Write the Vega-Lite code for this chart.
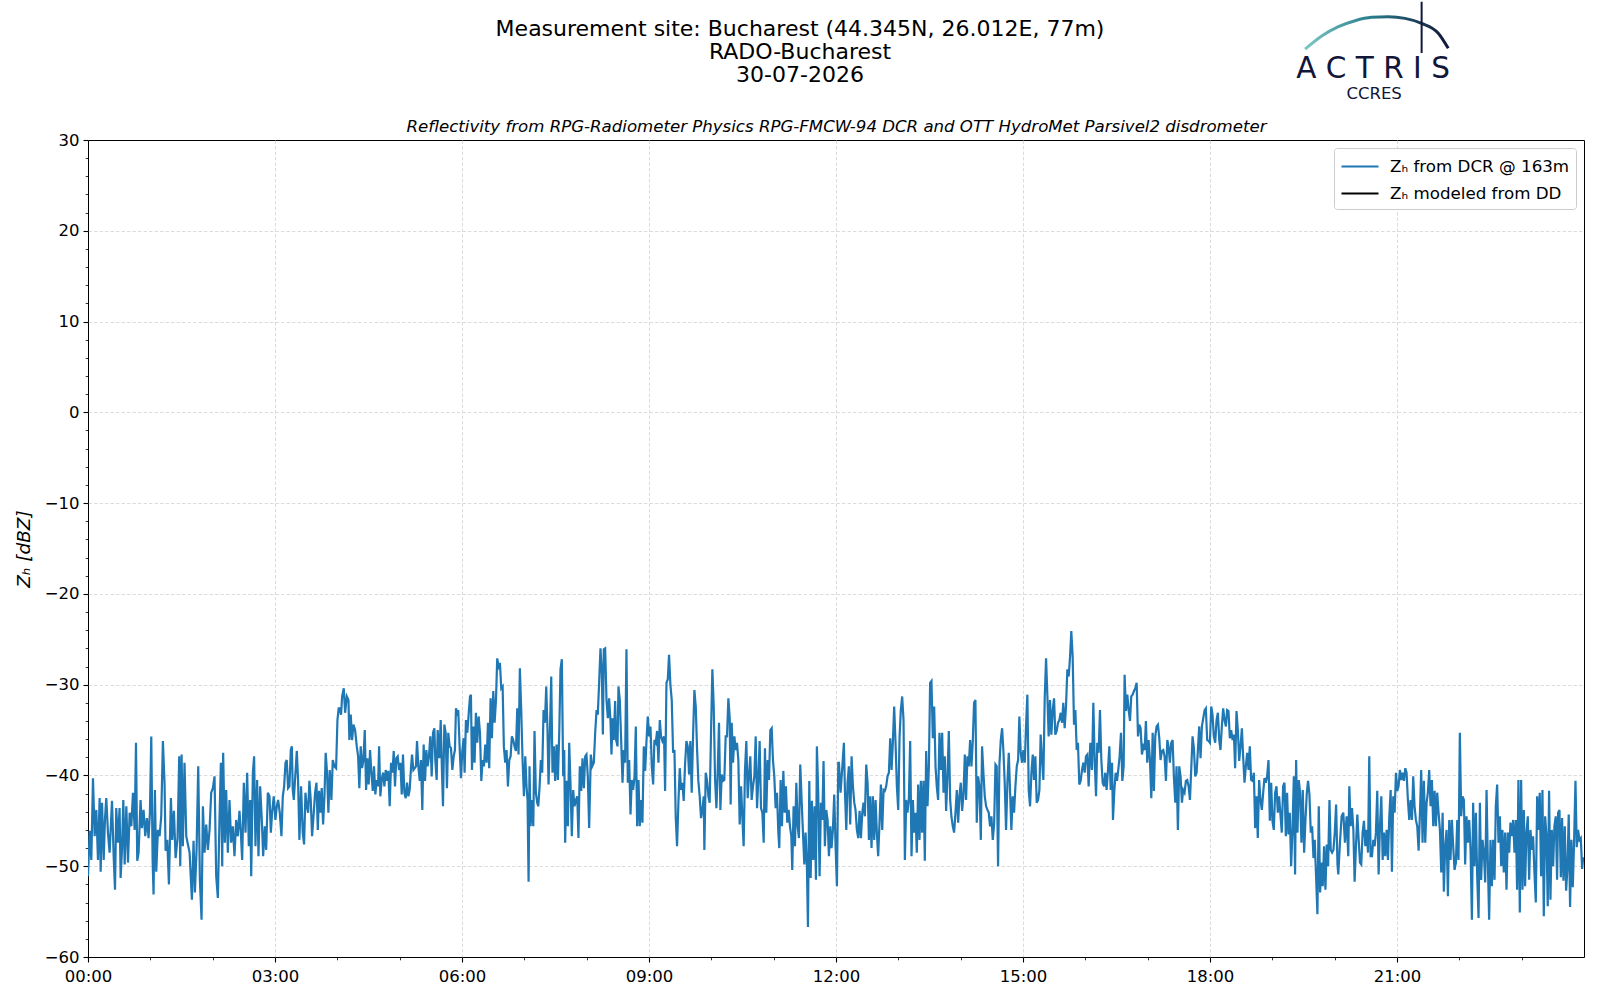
{
"$schema": "https://vega.github.io/schema/vega-lite/v6.json",
"autosize": {"type": "none"},
"width": 1496,
"height": 817,
"padding": {"left": 88, "top": 140, "right": 16, "bottom": 43},
"background": "white",
"config": {
  "font": "DejaVu Sans",
  "view": {"stroke": "black", "strokeWidth": 1},
  "axis": {"labelColor": "black", "tickColor": "black", "domainColor": "black", "titleColor": "black"}
},
"title": {"text": ["Measurement site: Bucharest (44.345N, 26.012E, 77m)", "RADO-Bucharest", "30-07-2026"], "fontSize": 22, "fontWeight": "normal", "lineHeight": 23, "frame": "group", "anchor": "middle", "dx": -36, "offset": 0, "dy": 89, "color": "black"},
"datasets": {
"dcr": [
{"t":0,"z":-51.1},{"t":1.6,"z":-46.1},{"t":3.2,"z":-49.3},{"t":4.8,"z":-40.3},{"t":6.4,"z":-46.7},{"t":8.0,"z":-43.8},{"t":9.6,"z":-49.3},{"t":11.2,"z":-42.5},{"t":12.2,"z":-50.6},{"t":13.5,"z":-43.0},{"t":15.1,"z":-49.3},{"t":16.3,"z":-44.9},{"t":17.6,"z":-42.5},{"t":19.2,"z":-46.3},{"t":20.8,"z":-48.5},{"t":23.1,"z":-42.8},{"t":24.7,"z":-48.9},{"t":26.0,"z":-52.6},{"t":27.2,"z":-43.6},{"t":28.8,"z":-47.4},{"t":30.4,"z":-43.6},{"t":31.4,"z":-51.3},{"t":32.7,"z":-48.2},{"t":34.0,"z":-42.7},{"t":35.3,"z":-49.8},{"t":36.9,"z":-43.4},{"t":38.5,"z":-49.6},{"t":40.1,"z":-44.1},{"t":41.7,"z":-45.6},{"t":43.3,"z":-41.9},{"t":44.9,"z":-46.0},{"t":46.2,"z":-36.4},{"t":47.4,"z":-49.4},{"t":48.7,"z":-48.5},{"t":50.6,"z":-42.7},{"t":51.9,"z":-45.8},{"t":53.5,"z":-43.8},{"t":55.1,"z":-46.7},{"t":56.7,"z":-44.7},{"t":58.3,"z":-46.9},{"t":59.6,"z":-44.1},{"t":60.9,"z":-35.7},{"t":62.2,"z":-49.3},{"t":63.1,"z":-53.1},{"t":64.4,"z":-41.6},{"t":65.7,"z":-50.6},{"t":67.3,"z":-46.0},{"t":68.9,"z":-46.7},{"t":70.5,"z":-44.5},{"t":72.1,"z":-36.2},{"t":73.7,"z":-41.0},{"t":74.7,"z":-48.3},{"t":76.3,"z":-47.1},{"t":77.9,"z":-52.0},{"t":79.8,"z":-42.5},{"t":81.1,"z":-47.1},{"t":82.7,"z":-43.9},{"t":84.3,"z":-49.1},{"t":86.2,"z":-46.9},{"t":87.8,"z":-37.9},{"t":88.8,"z":-50.0},{"t":90.1,"z":-37.7},{"t":91.3,"z":-47.8},{"t":92.9,"z":-38.6},{"t":94.6,"z":-46.7},{"t":96.2,"z":-47.6},{"t":97.8,"z":-48.5},{"t":100.0,"z":-53.7},{"t":101.6,"z":-47.2},{"t":102.9,"z":-52.9},{"t":104.5,"z":-48.2},{"t":106.1,"z":-39.0},{"t":107.7,"z":-51.5},{"t":109.3,"z":-55.9},{"t":110.6,"z":-43.4},{"t":112.2,"z":-48.5},{"t":113.8,"z":-45.4},{"t":115.4,"z":-48.2},{"t":117.0,"z":-46.0},{"t":118.6,"z":-41.9},{"t":120.2,"z":-41.4},{"t":121.8,"z":-40.1},{"t":123.4,"z":-51.1},{"t":125.0,"z":-53.5},{"t":126.6,"z":-44.7},{"t":127.9,"z":-38.6},{"t":129.2,"z":-50.0},{"t":130.1,"z":-37.5},{"t":131.7,"z":-47.4},{"t":133.0,"z":-41.6},{"t":134.6,"z":-48.5},{"t":136.2,"z":-42.7},{"t":137.8,"z":-47.4},{"t":139.4,"z":-45.6},{"t":141.0,"z":-48.9},{"t":142.6,"z":-44.9},{"t":144.2,"z":-46.7},{"t":145.8,"z":-43.9},{"t":147.1,"z":-46.3},{"t":148.4,"z":-49.3},{"t":150.0,"z":-40.8},{"t":151.6,"z":-46.3},{"t":153.2,"z":-39.7},{"t":154.8,"z":-47.8},{"t":156.1,"z":-42.7},{"t":157.1,"z":-51.1},{"t":158.7,"z":-39.7},{"t":159.9,"z":-37.9},{"t":161.2,"z":-47.8},{"t":162.8,"z":-40.5},{"t":164.1,"z":-48.9},{"t":165.7,"z":-41.2},{"t":167.3,"z":-44.9},{"t":168.6,"z":-48.9},{"t":170.2,"z":-45.6},{"t":171.5,"z":-48.2},{"t":173.1,"z":-41.9},{"t":174.7,"z":-42.3},{"t":176.0,"z":-46.3},{"t":177.2,"z":-44.1},{"t":178.8,"z":-42.3},{"t":180.4,"z":-44.9},{"t":181.7,"z":-43.4},{"t":183.0,"z":-42.7},{"t":184.6,"z":-44.1},{"t":186.2,"z":-46.7},{"t":187.5,"z":-42.3},{"t":188.8,"z":-41.2},{"t":190.1,"z":-38.6},{"t":191.3,"z":-38.3},{"t":192.6,"z":-41.4},{"t":193.9,"z":-41.2},{"t":195.2,"z":-37.2},{"t":196.2,"z":-36.8},{"t":197.1,"z":-41.6},{"t":198.1,"z":-42.7},{"t":199.7,"z":-39.7},{"t":201.0,"z":-37.3},{"t":202.2,"z":-40.5},{"t":203.5,"z":-47.1},{"t":205.1,"z":-41.2},{"t":206.7,"z":-46.3},{"t":208.0,"z":-47.6},{"t":209.3,"z":-41.9},{"t":210.6,"z":-43.4},{"t":211.9,"z":-44.1},{"t":213.1,"z":-40.6},{"t":214.4,"z":-42.7},{"t":215.7,"z":-46.7},{"t":217.3,"z":-44.1},{"t":218.6,"z":-41.9},{"t":219.9,"z":-40.8},{"t":221.2,"z":-46.0},{"t":222.4,"z":-41.7},{"t":223.7,"z":-44.1},{"t":225.0,"z":-41.4},{"t":226.3,"z":-45.4},{"t":227.6,"z":-42.3},{"t":228.8,"z":-37.5},{"t":230.1,"z":-39.7},{"t":231.4,"z":-44.1},{"t":232.7,"z":-39.4},{"t":234.3,"z":-42.7},{"t":235.6,"z":-38.3},{"t":237.2,"z":-39.0},{"t":238.8,"z":-39.2},{"t":240.1,"z":-33.9},{"t":241.3,"z":-32.6},
{"t":242.0,"z":-32.6},{"t":243.6,"z":-33.3},{"t":244.6,"z":-31.3},{"t":246.2,"z":-30.4},{"t":247.5,"z":-33.1},{"t":249.1,"z":-31.3},{"t":250.7,"z":-31.7},{"t":251.6,"z":-36.1},{"t":252.9,"z":-33.3},{"t":254.2,"z":-36.1},{"t":255.5,"z":-34.4},{"t":257.1,"z":-35.0},{"t":258.7,"z":-36.8},{"t":260.0,"z":-37.9},{"t":261.2,"z":-41.4},{"t":262.5,"z":-36.8},{"t":263.8,"z":-39.2},{"t":265.1,"z":-38.3},{"t":266.4,"z":-35.0},{"t":267.7,"z":-41.6},{"t":268.9,"z":-38.1},{"t":270.2,"z":-41.0},{"t":271.5,"z":-37.2},{"t":272.8,"z":-39.7},{"t":274.1,"z":-41.7},{"t":275.3,"z":-39.0},{"t":276.6,"z":-42.1},{"t":277.9,"z":-40.5},{"t":279.2,"z":-41.2},{"t":280.2,"z":-36.8},{"t":281.4,"z":-42.3},{"t":282.7,"z":-40.5},{"t":284.0,"z":-39.7},{"t":285.3,"z":-41.2},{"t":286.6,"z":-39.4},{"t":287.8,"z":-40.6},{"t":289.1,"z":-39.5},{"t":290.4,"z":-43.4},{"t":291.7,"z":-38.6},{"t":293.0,"z":-39.7},{"t":294.3,"z":-37.3},{"t":295.5,"z":-41.2},{"t":296.8,"z":-38.1},{"t":298.1,"z":-37.9},{"t":299.4,"z":-39.4},{"t":300.7,"z":-38.6},{"t":302.0,"z":-42.1},{"t":303.2,"z":-37.7},{"t":304.5,"z":-41.9},{"t":305.8,"z":-42.5},{"t":307.1,"z":-40.8},{"t":308.4,"z":-42.3},{"t":309.6,"z":-41.6},{"t":310.9,"z":-39.2},{"t":311.9,"z":-37.7},{"t":313.2,"z":-39.4},{"t":314.5,"z":-39.2},{"t":315.7,"z":-39.0},{"t":316.7,"z":-36.2},{"t":318.0,"z":-39.0},{"t":319.3,"z":-40.6},{"t":320.5,"z":-38.3},{"t":321.8,"z":-43.8},{"t":323.1,"z":-36.6},{"t":324.4,"z":-40.6},{"t":325.7,"z":-37.2},{"t":326.9,"z":-39.0},{"t":328.2,"z":-37.9},{"t":329.5,"z":-35.7},{"t":330.8,"z":-40.1},{"t":332.1,"z":-35.3},{"t":333.4,"z":-34.8},{"t":334.3,"z":-38.3},{"t":335.6,"z":-40.5},{"t":336.6,"z":-35.0},{"t":338.2,"z":-38.1},{"t":339.5,"z":-33.9},{"t":340.7,"z":-39.5},{"t":341.7,"z":-43.4},{"t":343.0,"z":-34.4},{"t":344.3,"z":-35.3},{"t":345.5,"z":-41.4},{"t":346.8,"z":-35.3},{"t":348.1,"z":-36.8},{"t":349.4,"z":-37.0},{"t":350.7,"z":-39.4},{"t":352.0,"z":-37.9},{"t":353.2,"z":-37.2},{"t":354.2,"z":-32.6},{"t":355.5,"z":-33.1},{"t":356.4,"z":-32.8},{"t":357.7,"z":-36.8},{"t":359.0,"z":-40.3},{"t":360.3,"z":-37.3},{"t":361.6,"z":-35.9},{"t":362.5,"z":-39.7},{"t":363.8,"z":-33.9},{"t":365.1,"z":-35.3},{"t":366.4,"z":-33.3},{"t":367.7,"z":-31.3},{"t":368.6,"z":-31.1},{"t":369.6,"z":-39.4},{"t":370.9,"z":-34.6},{"t":372.1,"z":-38.6},{"t":373.4,"z":-33.1},{"t":374.7,"z":-36.4},{"t":376.0,"z":-33.5},{"t":377.3,"z":-35.3},{"t":378.6,"z":-40.6},{"t":379.8,"z":-38.3},{"t":381.1,"z":-39.0},{"t":382.4,"z":-36.6},{"t":383.7,"z":-38.6},{"t":385.0,"z":-34.2},{"t":386.2,"z":-39.2},{"t":387.5,"z":-31.5},{"t":388.8,"z":-35.9},{"t":390.1,"z":-30.7},{"t":391.4,"z":-34.2},{"t":392.7,"z":-31.7},{"t":393.9,"z":-27.1},{"t":395.2,"z":-28.0},{"t":396.5,"z":-27.6},{"t":397.8,"z":-30.4},{"t":399.1,"z":-30.2},{"t":400.3,"z":-36.8},{"t":401.6,"z":-38.6},{"t":402.9,"z":-37.2},{"t":404.2,"z":-41.2},{"t":405.5,"z":-38.3},{"t":406.8,"z":-37.9},{"t":408.0,"z":-35.7},{"t":409.3,"z":-36.1},{"t":410.6,"z":-36.8},{"t":411.9,"z":-37.3},{"t":413.2,"z":-32.6},{"t":414.4,"z":-37.7},{"t":415.7,"z":-28.2},{"t":417.0,"z":-32.8},{"t":418.3,"z":-38.3},{"t":419.6,"z":-42.3},{"t":420.9,"z":-37.9},{"t":422.1,"z":-41.2},{"t":423.1,"z":-42.7},{"t":424.1,"z":-51.7},{"t":425.0,"z":-39.0},{"t":426.0,"z":-45.6},{"t":427.3,"z":-42.7},{"t":428.6,"z":-45.6},{"t":429.8,"z":-35.1},{"t":431.1,"z":-41.9},{"t":432.4,"z":-43.0},{"t":433.4,"z":-43.4},{"t":434.6,"z":-41.4},{"t":435.9,"z":-38.3},{"t":437.2,"z":-39.7},{"t":438.5,"z":-32.8},{"t":439.8,"z":-34.2},{"t":441.1,"z":-30.2},{"t":442.3,"z":-35.0},{"t":443.3,"z":-41.0},{"t":444.6,"z":-35.3},{"t":445.9,"z":-29.1},{"t":447.1,"z":-39.7},{"t":448.4,"z":-36.8},{"t":449.7,"z":-40.6},{"t":451.0,"z":-36.6},{"t":452.3,"z":-40.5},{"t":453.6,"z":-35.3},{"t":454.8,"z":-28.3},{"t":456.1,"z":-27.2},{"t":457.4,"z":-40.1},{"t":458.4,"z":-37.2},{"t":459.3,"z":-47.4},{"t":460.6,"z":-40.6},{"t":461.9,"z":-45.6},{"t":463.2,"z":-36.4},{"t":464.5,"z":-41.2},{"t":465.7,"z":-46.7},{"t":467.0,"z":-41.6},{"t":468.3,"z":-43.4},{"t":469.6,"z":-42.7},{"t":470.9,"z":-42.3},{"t":472.1,"z":-46.9},{"t":473.4,"z":-39.0},{"t":474.7,"z":-41.7},{"t":476.0,"z":-38.1},{"t":477.3,"z":-41.4},{"t":478.6,"z":-37.9},{"t":479.8,"z":-37.7},{"t":481.1,"z":-40.1},
{"t":482.4,"z":-45.8},{"t":484.0,"z":-37.7},{"t":485.3,"z":-39.0},{"t":486.9,"z":-38.6},{"t":488.2,"z":-35.3},{"t":489.5,"z":-32.8},{"t":490.7,"z":-33.3},{"t":492.0,"z":-29.8},{"t":493.3,"z":-26.0},{"t":494.6,"z":-28.7},{"t":495.6,"z":-35.5},{"t":496.5,"z":-26.1},{"t":497.8,"z":-26.0},{"t":499.1,"z":-31.7},{"t":500.4,"z":-33.7},{"t":501.6,"z":-31.5},{"t":502.9,"z":-33.9},{"t":503.9,"z":-37.7},{"t":504.9,"z":-33.7},{"t":506.1,"z":-36.1},{"t":507.4,"z":-31.8},{"t":508.4,"z":-36.1},{"t":509.7,"z":-36.8},{"t":510.6,"z":-30.2},{"t":511.9,"z":-31.7},{"t":513.2,"z":-36.1},{"t":514.5,"z":-40.8},{"t":515.7,"z":-37.2},{"t":517.0,"z":-38.6},{"t":518.3,"z":-26.1},{"t":519.6,"z":-40.8},{"t":520.9,"z":-38.3},{"t":522.2,"z":-44.3},{"t":523.4,"z":-40.5},{"t":524.7,"z":-41.6},{"t":526.0,"z":-40.3},{"t":527.3,"z":-34.6},{"t":528.6,"z":-45.6},{"t":529.9,"z":-40.5},{"t":531.1,"z":-45.6},{"t":532.4,"z":-42.7},{"t":533.7,"z":-45.2},{"t":535.0,"z":-36.8},{"t":536.3,"z":-39.5},{"t":537.5,"z":-36.4},{"t":538.8,"z":-33.5},{"t":540.1,"z":-35.7},{"t":541.4,"z":-34.6},{"t":542.7,"z":-39.0},{"t":544.0,"z":-41.0},{"t":545.2,"z":-36.1},{"t":546.5,"z":-36.4},{"t":547.8,"z":-35.1},{"t":549.1,"z":-38.6},{"t":550.4,"z":-33.9},{"t":551.6,"z":-35.7},{"t":552.9,"z":-36.2},{"t":554.5,"z":-35.7},{"t":555.5,"z":-41.7},{"t":556.8,"z":-29.8},{"t":558.1,"z":-29.4},{"t":559.3,"z":-26.7},{"t":560.6,"z":-30.0},{"t":561.9,"z":-31.7},{"t":563.2,"z":-37.5},{"t":564.5,"z":-37.2},{"t":565.7,"z":-44.5},{"t":567.0,"z":-47.8},{"t":568.3,"z":-43.0},{"t":569.6,"z":-39.2},{"t":570.9,"z":-41.6},{"t":572.2,"z":-40.8},{"t":573.4,"z":-42.8},{"t":574.7,"z":-38.8},{"t":576.0,"z":-36.2},{"t":577.3,"z":-36.8},{"t":578.6,"z":-39.9},{"t":579.8,"z":-36.2},{"t":581.1,"z":-41.9},{"t":582.4,"z":-35.7},{"t":583.7,"z":-30.6},{"t":585.0,"z":-32.4},{"t":586.3,"z":-37.2},{"t":587.5,"z":-40.6},{"t":588.8,"z":-42.3},{"t":590.1,"z":-44.7},{"t":591.4,"z":-43.8},{"t":592.7,"z":-42.3},{"t":593.3,"z":-48.2},{"t":594.6,"z":-39.7},{"t":595.9,"z":-40.6},{"t":597.2,"z":-42.3},{"t":598.4,"z":-43.0},{"t":599.7,"z":-35.3},{"t":601.0,"z":-28.3},{"t":602.3,"z":-32.4},{"t":603.6,"z":-40.5},{"t":604.9,"z":-43.6},{"t":606.1,"z":-39.7},{"t":607.4,"z":-34.2},{"t":608.7,"z":-43.8},{"t":610.0,"z":-39.9},{"t":611.3,"z":-40.6},{"t":612.5,"z":-40.5},{"t":613.8,"z":-35.7},{"t":615.1,"z":-35.7},{"t":616.4,"z":-31.5},{"t":617.7,"z":-33.7},{"t":618.6,"z":-43.2},{"t":619.6,"z":-34.2},{"t":620.9,"z":-38.6},{"t":622.2,"z":-35.7},{"t":623.4,"z":-37.2},{"t":624.7,"z":-36.4},{"t":626.0,"z":-38.3},{"t":627.3,"z":-45.4},{"t":628.6,"z":-41.2},{"t":629.9,"z":-44.7},{"t":631.1,"z":-47.8},{"t":632.4,"z":-39.4},{"t":633.7,"z":-36.2},{"t":635.0,"z":-42.5},{"t":636.3,"z":-39.9},{"t":637.5,"z":-37.9},{"t":638.8,"z":-42.7},{"t":640.1,"z":-41.2},{"t":641.4,"z":-40.1},{"t":642.7,"z":-35.7},{"t":644.0,"z":-43.6},{"t":645.2,"z":-40.5},{"t":646.5,"z":-36.2},{"t":647.8,"z":-43.6},{"t":649.1,"z":-44.1},{"t":650.4,"z":-47.4},{"t":651.6,"z":-37.0},{"t":652.9,"z":-44.1},{"t":654.2,"z":-38.3},{"t":655.5,"z":-40.5},{"t":656.8,"z":-35.0},{"t":658.1,"z":-34.8},{"t":659.3,"z":-38.3},{"t":660.6,"z":-40.1},{"t":661.9,"z":-43.6},{"t":663.2,"z":-41.9},{"t":664.5,"z":-46.3},{"t":665.4,"z":-48.0},{"t":666.7,"z":-40.5},{"t":668.0,"z":-45.6},{"t":669.3,"z":-39.5},{"t":670.6,"z":-44.1},{"t":671.8,"z":-41.2},{"t":673.1,"z":-45.2},{"t":674.4,"z":-43.8},{"t":675.7,"z":-45.6},{"t":677.0,"z":-46.7},{"t":677.9,"z":-50.4},{"t":679.2,"z":-43.4},{"t":680.5,"z":-47.8},{"t":681.8,"z":-40.8},{"t":683.1,"z":-45.6},{"t":684.3,"z":-46.9},{"t":685.6,"z":-38.8},{"t":686.9,"z":-42.7},{"t":688.2,"z":-46.3},{"t":689.5,"z":-49.8},{"t":690.7,"z":-46.3},{"t":692.0,"z":-50.0},{"t":693.0,"z":-56.7},{"t":694.3,"z":-40.6},{"t":695.6,"z":-51.3},{"t":696.8,"z":-42.8},{"t":698.1,"z":-49.3},{"t":699.4,"z":-43.4},{"t":700.7,"z":-51.5},{"t":701.6,"z":-36.8},{"t":702.9,"z":-41.9},{"t":704.2,"z":-51.1},{"t":705.5,"z":-43.0},{"t":706.8,"z":-44.9},{"t":708.0,"z":-38.4},{"t":709.3,"z":-47.8},{"t":710.6,"z":-43.8},{"t":711.9,"z":-44.9},{"t":713.2,"z":-48.9},{"t":714.5,"z":-45.6},{"t":715.7,"z":-48.0},{"t":717.0,"z":-46.0},{"t":718.3,"z":-42.1},{"t":719.6,"z":-47.8},{"t":720.9,"z":-52.2},{"t":722.2,"z":-38.6},
{"t":722.8,"z":-38.6},{"t":724.4,"z":-41.9},{"t":726.0,"z":-39.2},{"t":727.6,"z":-36.4},{"t":728.6,"z":-41.7},{"t":729.9,"z":-46.0},{"t":731.1,"z":-40.8},{"t":732.4,"z":-39.0},{"t":733.7,"z":-45.4},{"t":735.0,"z":-37.9},{"t":736.3,"z":-41.2},{"t":737.6,"z":-43.0},{"t":738.8,"z":-43.8},{"t":740.1,"z":-46.0},{"t":741.4,"z":-46.9},{"t":742.7,"z":-43.9},{"t":744.0,"z":-46.9},{"t":745.3,"z":-44.1},{"t":746.5,"z":-43.0},{"t":747.8,"z":-44.5},{"t":749.1,"z":-38.8},{"t":750.4,"z":-40.8},{"t":751.7,"z":-47.1},{"t":752.9,"z":-42.3},{"t":754.2,"z":-48.0},{"t":755.5,"z":-42.3},{"t":756.8,"z":-47.1},{"t":758.1,"z":-42.7},{"t":759.4,"z":-46.5},{"t":760.6,"z":-48.9},{"t":761.9,"z":-45.2},{"t":763.2,"z":-41.0},{"t":764.5,"z":-46.0},{"t":765.8,"z":-41.6},{"t":767.0,"z":-41.7},{"t":768.3,"z":-41.2},{"t":769.6,"z":-40.1},{"t":770.9,"z":-39.7},{"t":772.2,"z":-35.9},{"t":773.5,"z":-39.4},{"t":774.7,"z":-36.4},{"t":776.0,"z":-32.4},{"t":777.3,"z":-36.4},{"t":778.6,"z":-41.2},{"t":779.9,"z":-43.8},{"t":781.2,"z":-35.7},{"t":782.4,"z":-32.8},{"t":783.7,"z":-31.3},{"t":785.0,"z":-33.9},{"t":786.3,"z":-49.3},{"t":787.6,"z":-42.7},{"t":788.8,"z":-44.1},{"t":790.1,"z":-42.7},{"t":791.4,"z":-36.2},{"t":792.7,"z":-48.9},{"t":794.0,"z":-42.7},{"t":795.3,"z":-46.3},{"t":796.5,"z":-44.1},{"t":797.8,"z":-48.5},{"t":799.1,"z":-41.0},{"t":800.4,"z":-47.1},{"t":801.7,"z":-40.6},{"t":802.9,"z":-46.3},{"t":804.2,"z":-40.6},{"t":805.5,"z":-49.4},{"t":806.8,"z":-37.3},{"t":808.1,"z":-43.4},{"t":809.4,"z":-39.0},{"t":810.6,"z":-29.8},{"t":811.9,"z":-29.6},{"t":813.2,"z":-35.9},{"t":814.5,"z":-32.4},{"t":815.8,"z":-39.0},{"t":817.0,"z":-41.2},{"t":818.3,"z":-42.7},{"t":819.6,"z":-35.3},{"t":820.9,"z":-39.4},{"t":822.2,"z":-35.3},{"t":823.5,"z":-41.9},{"t":824.7,"z":-37.9},{"t":826.0,"z":-43.9},{"t":827.3,"z":-40.1},{"t":828.6,"z":-35.1},{"t":829.9,"z":-42.7},{"t":831.1,"z":-44.5},{"t":832.4,"z":-45.6},{"t":833.7,"z":-46.3},{"t":835.0,"z":-44.1},{"t":836.3,"z":-41.6},{"t":837.6,"z":-45.2},{"t":838.8,"z":-42.3},{"t":840.1,"z":-40.8},{"t":841.4,"z":-43.9},{"t":842.7,"z":-42.1},{"t":844.0,"z":-37.7},{"t":845.2,"z":-42.7},{"t":846.5,"z":-37.9},{"t":847.8,"z":-39.0},{"t":849.1,"z":-36.1},{"t":850.4,"z":-39.0},{"t":851.7,"z":-36.1},{"t":852.9,"z":-32.0},{"t":854.2,"z":-31.7},{"t":855.5,"z":-45.2},{"t":856.8,"z":-40.1},{"t":858.1,"z":-41.2},{"t":859.4,"z":-47.1},{"t":860.6,"z":-36.8},{"t":861.9,"z":-39.7},{"t":863.2,"z":-42.3},{"t":864.5,"z":-43.4},{"t":865.8,"z":-43.8},{"t":867.0,"z":-44.1},{"t":868.3,"z":-45.6},{"t":869.6,"z":-44.5},{"t":870.9,"z":-47.1},{"t":872.2,"z":-45.4},{"t":873.5,"z":-38.8},{"t":874.7,"z":-39.0},{"t":876.0,"z":-50.0},{"t":877.3,"z":-38.8},{"t":878.6,"z":-36.1},{"t":879.9,"z":-34.8},{"t":881.1,"z":-37.2},{"t":882.4,"z":-40.8},{"t":883.7,"z":-46.0},{"t":885.0,"z":-40.8},{"t":886.3,"z":-37.5},{"t":887.6,"z":-41.9},{"t":888.8,"z":-46.0},{"t":890.1,"z":-42.3},{"t":891.4,"z":-44.1},{"t":892.7,"z":-41.2},{"t":894.0,"z":-39.0},{"t":895.3,"z":-38.3},{"t":896.5,"z":-33.5},{"t":897.8,"z":-37.5},{"t":899.1,"z":-38.6},{"t":900.4,"z":-37.2},{"t":901.7,"z":-38.6},{"t":902.9,"z":-34.6},{"t":904.2,"z":-31.1},{"t":905.5,"z":-41.6},{"t":906.8,"z":-43.4},{"t":908.1,"z":-39.7},{"t":909.4,"z":-37.7},{"t":910.6,"z":-40.5},{"t":911.9,"z":-37.9},{"t":913.2,"z":-43.0},{"t":914.5,"z":-42.7},{"t":915.8,"z":-41.6},{"t":917.0,"z":-35.5},{"t":918.3,"z":-38.3},{"t":919.6,"z":-40.5},{"t":920.9,"z":-31.5},{"t":922.2,"z":-27.1},{"t":923.5,"z":-31.3},{"t":924.7,"z":-35.7},{"t":926.0,"z":-31.7},{"t":927.3,"z":-35.5},{"t":928.6,"z":-32.8},{"t":929.9,"z":-31.5},{"t":931.1,"z":-35.5},{"t":932.4,"z":-35.1},{"t":933.7,"z":-34.2},{"t":935.0,"z":-33.9},{"t":936.3,"z":-33.1},{"t":937.6,"z":-34.2},{"t":938.8,"z":-32.0},{"t":940.1,"z":-34.8},{"t":941.4,"z":-32.4},{"t":942.7,"z":-28.3},{"t":944.0,"z":-29.1},{"t":945.3,"z":-26.9},{"t":946.5,"z":-24.1},{"t":947.8,"z":-26.9},{"t":949.1,"z":-34.4},{"t":950.4,"z":-32.8},{"t":951.7,"z":-37.2},{"t":952.9,"z":-36.4},{"t":954.2,"z":-41.0},{"t":955.5,"z":-40.6},{"t":956.8,"z":-39.4},{"t":958.1,"z":-38.6},{"t":959.4,"z":-39.7},{"t":960.6,"z":-37.9},{"t":961.9,"z":-37.7},
{"t":963.2,"z":-41.2},{"t":964.8,"z":-36.4},{"t":966.4,"z":-39.4},{"t":967.7,"z":-32.0},{"t":969.0,"z":-38.3},{"t":970.3,"z":-42.3},{"t":971.5,"z":-36.4},{"t":972.8,"z":-37.5},{"t":974.1,"z":-32.8},{"t":975.4,"z":-38.3},{"t":976.7,"z":-40.8},{"t":978.0,"z":-41.2},{"t":979.2,"z":-39.7},{"t":980.5,"z":-41.6},{"t":981.8,"z":-39.4},{"t":983.1,"z":-36.8},{"t":984.4,"z":-41.6},{"t":985.7,"z":-38.6},{"t":986.6,"z":-44.9},{"t":987.9,"z":-41.7},{"t":989.2,"z":-39.7},{"t":990.5,"z":-40.6},{"t":991.7,"z":-39.4},{"t":993.0,"z":-37.9},{"t":994.3,"z":-35.3},{"t":995.6,"z":-40.6},{"t":996.9,"z":-39.0},{"t":997.8,"z":-28.9},{"t":999.1,"z":-32.9},{"t":1000.4,"z":-31.1},{"t":1001.7,"z":-32.8},{"t":1003.0,"z":-34.0},{"t":1004.2,"z":-31.3},{"t":1005.5,"z":-31.1},{"t":1006.8,"z":-30.7},{"t":1008.1,"z":-30.4},{"t":1009.4,"z":-29.8},{"t":1010.7,"z":-35.7},{"t":1011.9,"z":-34.4},{"t":1013.2,"z":-34.8},{"t":1014.5,"z":-37.7},{"t":1015.8,"z":-36.8},{"t":1017.1,"z":-37.2},{"t":1018.3,"z":-34.0},{"t":1019.6,"z":-38.6},{"t":1020.9,"z":-36.1},{"t":1022.2,"z":-38.3},{"t":1023.5,"z":-42.5},{"t":1024.8,"z":-35.3},{"t":1026.0,"z":-41.7},{"t":1027.3,"z":-35.7},{"t":1028.6,"z":-34.6},{"t":1029.9,"z":-34.4},{"t":1031.2,"z":-35.9},{"t":1032.4,"z":-38.3},{"t":1033.7,"z":-37.3},{"t":1035.0,"z":-37.2},{"t":1036.3,"z":-37.9},{"t":1037.6,"z":-40.6},{"t":1038.9,"z":-36.1},{"t":1040.1,"z":-36.8},{"t":1041.4,"z":-38.6},{"t":1042.7,"z":-36.4},{"t":1044.0,"z":-36.1},{"t":1045.3,"z":-40.3},{"t":1046.6,"z":-43.0},{"t":1047.8,"z":-39.0},{"t":1049.1,"z":-46.0},{"t":1050.4,"z":-39.0},{"t":1051.7,"z":-40.1},{"t":1053.0,"z":-43.0},{"t":1054.2,"z":-41.6},{"t":1055.5,"z":-41.9},{"t":1056.8,"z":-40.6},{"t":1058.1,"z":-40.5},{"t":1059.4,"z":-41.2},{"t":1060.7,"z":-42.7},{"t":1061.9,"z":-39.4},{"t":1063.2,"z":-35.7},{"t":1064.5,"z":-37.0},{"t":1065.8,"z":-40.1},{"t":1067.1,"z":-39.7},{"t":1068.3,"z":-37.3},{"t":1069.6,"z":-34.6},{"t":1070.9,"z":-38.1},{"t":1072.2,"z":-34.6},{"t":1073.5,"z":-33.7},{"t":1074.8,"z":-32.8},{"t":1076.0,"z":-32.6},{"t":1077.3,"z":-36.1},{"t":1078.6,"z":-36.2},{"t":1079.9,"z":-36.4},{"t":1081.2,"z":-32.4},{"t":1082.4,"z":-33.3},{"t":1083.7,"z":-35.7},{"t":1085.0,"z":-36.4},{"t":1086.3,"z":-33.9},{"t":1087.6,"z":-33.1},{"t":1088.9,"z":-36.1},{"t":1090.1,"z":-37.2},{"t":1091.4,"z":-34.6},{"t":1092.7,"z":-32.6},{"t":1094.0,"z":-33.9},{"t":1095.3,"z":-34.6},{"t":1096.5,"z":-32.8},{"t":1097.8,"z":-32.9},{"t":1099.1,"z":-35.9},{"t":1100.4,"z":-35.0},{"t":1101.7,"z":-36.1},{"t":1103.0,"z":-35.5},{"t":1104.2,"z":-39.2},{"t":1105.5,"z":-32.9},{"t":1106.8,"z":-35.0},{"t":1108.1,"z":-38.4},{"t":1109.4,"z":-36.8},{"t":1110.7,"z":-34.8},{"t":1111.9,"z":-37.9},{"t":1113.2,"z":-40.8},{"t":1114.5,"z":-39.0},{"t":1115.8,"z":-37.5},{"t":1117.1,"z":-39.4},{"t":1118.3,"z":-36.8},{"t":1119.6,"z":-40.5},{"t":1120.9,"z":-40.6},{"t":1122.2,"z":-39.7},{"t":1123.5,"z":-45.8},{"t":1124.8,"z":-42.3},{"t":1126.0,"z":-46.9},{"t":1127.3,"z":-40.5},{"t":1128.6,"z":-42.7},{"t":1129.9,"z":-43.8},{"t":1131.2,"z":-41.9},{"t":1132.4,"z":-40.3},{"t":1133.7,"z":-40.8},{"t":1135.0,"z":-40.1},{"t":1136.3,"z":-38.3},{"t":1137.6,"z":-45.0},{"t":1138.9,"z":-40.8},{"t":1140.1,"z":-45.0},{"t":1141.4,"z":-46.0},{"t":1142.7,"z":-41.9},{"t":1144.0,"z":-41.2},{"t":1145.3,"z":-44.1},{"t":1146.5,"z":-42.3},{"t":1147.8,"z":-44.3},{"t":1149.1,"z":-46.3},{"t":1150.4,"z":-41.2},{"t":1151.7,"z":-40.8},{"t":1153.0,"z":-46.7},{"t":1154.2,"z":-41.9},{"t":1155.5,"z":-46.5},{"t":1156.8,"z":-44.1},{"t":1158.1,"z":-50.0},{"t":1159.4,"z":-46.0},{"t":1160.7,"z":-40.1},{"t":1161.9,"z":-50.9},{"t":1162.9,"z":-38.3},{"t":1164.2,"z":-46.3},{"t":1165.5,"z":-40.5},{"t":1166.7,"z":-41.9},{"t":1168.0,"z":-47.4},{"t":1169.3,"z":-41.6},{"t":1170.6,"z":-48.5},{"t":1171.9,"z":-44.9},{"t":1173.2,"z":-41.9},{"t":1174.4,"z":-40.6},{"t":1175.7,"z":-42.1},{"t":1177.0,"z":-46.3},{"t":1178.3,"z":-45.6},{"t":1179.6,"z":-49.1},{"t":1180.8,"z":-47.1},{"t":1182.1,"z":-51.1},{"t":1183.4,"z":-55.3},{"t":1184.7,"z":-43.4},{"t":1186.0,"z":-52.9},{"t":1187.3,"z":-49.6},{"t":1188.5,"z":-52.2},{"t":1189.8,"z":-47.8},{"t":1191.1,"z":-52.6},{"t":1192.4,"z":-47.6},{"t":1193.7,"z":-50.0},{"t":1195.0,"z":-42.7},{"t":1196.2,"z":-48.2},{"t":1197.5,"z":-48.5},{"t":1198.8,"z":-48.2},{"t":1200.1,"z":-46.3},{"t":1201.4,"z":-43.2},{"t":1202.7,"z":-49.8},
{"t":1203.5,"z":-50.9},{"t":1205.1,"z":-47.4},{"t":1206.7,"z":-44.5},{"t":1208.3,"z":-44.1},{"t":1209.9,"z":-47.4},{"t":1211.5,"z":-44.5},{"t":1213.1,"z":-48.9},{"t":1214.1,"z":-41.2},{"t":1215.4,"z":-45.6},{"t":1216.7,"z":-43.6},{"t":1218.0,"z":-46.0},{"t":1219.2,"z":-51.7},{"t":1220.5,"z":-47.8},{"t":1221.8,"z":-44.3},{"t":1223.1,"z":-47.1},{"t":1224.4,"z":-49.6},{"t":1225.6,"z":-49.8},{"t":1226.9,"z":-46.3},{"t":1228.2,"z":-45.0},{"t":1229.5,"z":-47.8},{"t":1230.8,"z":-46.0},{"t":1232.1,"z":-48.5},{"t":1233.3,"z":-37.9},{"t":1234.6,"z":-48.9},{"t":1235.9,"z":-48.9},{"t":1237.2,"z":-47.1},{"t":1238.5,"z":-47.8},{"t":1239.7,"z":-46.3},{"t":1241.0,"z":-41.7},{"t":1242.3,"z":-50.9},{"t":1243.6,"z":-45.6},{"t":1244.9,"z":-42.3},{"t":1246.2,"z":-49.3},{"t":1247.4,"z":-46.3},{"t":1248.7,"z":-48.9},{"t":1250.0,"z":-46.0},{"t":1251.3,"z":-49.3},{"t":1252.6,"z":-44.5},{"t":1253.9,"z":-41.6},{"t":1255.1,"z":-50.6},{"t":1256.4,"z":-42.3},{"t":1257.7,"z":-44.1},{"t":1259.0,"z":-39.7},{"t":1260.3,"z":-41.7},{"t":1261.5,"z":-41.2},{"t":1262.8,"z":-39.4},{"t":1264.1,"z":-40.5},{"t":1265.4,"z":-39.7},{"t":1266.7,"z":-40.6},{"t":1268.0,"z":-39.2},{"t":1269.2,"z":-39.7},{"t":1270.5,"z":-42.7},{"t":1271.8,"z":-44.9},{"t":1273.1,"z":-42.7},{"t":1274.4,"z":-44.9},{"t":1275.6,"z":-40.1},{"t":1276.9,"z":-43.4},{"t":1278.2,"z":-44.9},{"t":1279.5,"z":-45.6},{"t":1280.8,"z":-48.3},{"t":1282.1,"z":-44.1},{"t":1283.3,"z":-39.4},{"t":1284.6,"z":-47.4},{"t":1285.9,"z":-40.6},{"t":1287.2,"z":-47.4},{"t":1288.5,"z":-43.0},{"t":1289.7,"z":-41.9},{"t":1291.0,"z":-39.4},{"t":1292.3,"z":-43.4},{"t":1293.6,"z":-40.5},{"t":1294.9,"z":-45.6},{"t":1296.2,"z":-41.7},{"t":1297.4,"z":-45.6},{"t":1298.7,"z":-41.9},{"t":1300.0,"z":-44.1},{"t":1301.3,"z":-46.0},{"t":1302.6,"z":-50.7},{"t":1303.9,"z":-44.1},{"t":1305.1,"z":-52.8},{"t":1306.4,"z":-47.8},{"t":1307.7,"z":-46.0},{"t":1309.0,"z":-53.3},{"t":1310.3,"z":-44.9},{"t":1311.5,"z":-49.3},{"t":1312.8,"z":-44.9},{"t":1314.1,"z":-47.8},{"t":1315.4,"z":-50.4},{"t":1316.7,"z":-49.6},{"t":1318.0,"z":-44.9},{"t":1319.2,"z":-49.3},{"t":1320.5,"z":-35.3},{"t":1321.8,"z":-44.5},{"t":1323.1,"z":-42.3},{"t":1324.4,"z":-42.7},{"t":1325.6,"z":-49.8},{"t":1326.9,"z":-44.5},{"t":1328.2,"z":-47.4},{"t":1329.5,"z":-44.9},{"t":1330.8,"z":-48.2},{"t":1332.1,"z":-55.9},{"t":1333.3,"z":-43.0},{"t":1334.6,"z":-50.0},{"t":1335.9,"z":-44.1},{"t":1337.2,"z":-51.1},{"t":1338.5,"z":-55.7},{"t":1339.8,"z":-43.0},{"t":1341.0,"z":-51.5},{"t":1342.3,"z":-47.1},{"t":1343.6,"z":-48.5},{"t":1344.9,"z":-51.8},{"t":1346.2,"z":-41.6},{"t":1347.4,"z":-49.3},{"t":1348.7,"z":-55.9},{"t":1350.0,"z":-47.1},{"t":1351.3,"z":-52.2},{"t":1352.6,"z":-47.1},{"t":1353.9,"z":-51.5},{"t":1355.1,"z":-43.4},{"t":1356.4,"z":-41.0},{"t":1357.7,"z":-47.4},{"t":1359.0,"z":-44.5},{"t":1360.3,"z":-50.0},{"t":1361.5,"z":-46.0},{"t":1362.8,"z":-50.7},{"t":1364.1,"z":-46.3},{"t":1365.4,"z":-52.6},{"t":1366.7,"z":-46.3},{"t":1368.0,"z":-48.5},{"t":1369.2,"z":-45.2},{"t":1370.5,"z":-46.7},{"t":1371.8,"z":-44.9},{"t":1373.1,"z":-48.5},{"t":1374.4,"z":-44.9},{"t":1375.6,"z":-52.6},{"t":1376.9,"z":-40.5},{"t":1378.2,"z":-55.1},{"t":1379.5,"z":-40.5},{"t":1380.8,"z":-52.6},{"t":1382.1,"z":-43.8},{"t":1383.3,"z":-52.2},{"t":1384.6,"z":-46.3},{"t":1385.9,"z":-44.5},{"t":1387.2,"z":-51.5},{"t":1388.5,"z":-46.0},{"t":1389.7,"z":-48.2},{"t":1391.0,"z":-46.7},{"t":1392.3,"z":-50.7},{"t":1393.6,"z":-54.0},{"t":1394.9,"z":-42.3},{"t":1396.2,"z":-46.0},{"t":1397.4,"z":-41.9},{"t":1398.7,"z":-51.1},{"t":1400.0,"z":-41.6},{"t":1401.3,"z":-55.5},{"t":1402.6,"z":-44.5},{"t":1403.9,"z":-46.7},{"t":1405.1,"z":-54.4},{"t":1406.4,"z":-41.7},{"t":1407.7,"z":-53.7},{"t":1409.0,"z":-46.0},{"t":1410.3,"z":-50.0},{"t":1411.5,"z":-45.6},{"t":1412.8,"z":-44.5},{"t":1414.1,"z":-51.5},{"t":1415.1,"z":-44.1},
{"t":1416.4,"z":-43.8},{"t":1417.7,"z":-51.2},{"t":1418.9,"z":-44.7},{"t":1420.2,"z":-51.6},{"t":1421.5,"z":-45.6},{"t":1422.8,"z":-52.7},{"t":1424.1,"z":-50.1},{"t":1425.3,"z":-44.3},{"t":1426.6,"z":-54.5},{"t":1427.9,"z":-47.1},{"t":1429.2,"z":-52.3},{"t":1430.5,"z":-47.1},{"t":1431.8,"z":-40.6},{"t":1433.0,"z":-47.9},{"t":1434.3,"z":-46.0},{"t":1435.6,"z":-47.1},{"t":1436.9,"z":-46.9},{"t":1438.2,"z":-50.3},{"t":1439.2,"z":-49.0}
],
"logo": [{"t": 1237, "z": 37.8, "label": "A C T R I S"}],
"logo2": [{"t": 1238, "z": 35.05, "label": "CCRES"}],
"arc": [
{"t":1171.5,"z":40.0},{"t":1187.5,"z":41.45},{"t":1203.6,"z":42.48},{"t":1219.6,"z":43.14},{"t":1235.6,"z":43.51},{"t":1251.6,"z":43.58},{"t":1267.7,"z":43.4},{"t":1283.7,"z":42.85},{"t":1299.7,"z":41.76},{"t":1309.3,"z":40.1}
],
"mast": [{"t":1283.7,"z":45.23},{"t":1283.7,"z":39.58}]
},
"layer": [
{
  "data": {"name": "dcr"},
  "mark": {"type": "line", "strokeWidth": 2.2, "clip": true},
  "encoding": {
    "x": {"field": "t", "type": "quantitative", "scale": {"domain": [0, 1440], "nice": false, "zero": false},
      "axis": {"title": null, "orient": "bottom", "domain": false,
        "values": [0,60,120,180,240,300,360,420,480,540,600,660,720,780,840,900,960,1020,1080,1140,1200,1260,1320,1380],
        "labelExpr": "datum.value % 180 === 0 ? ((datum.value < 600 ? '0' : '') + (datum.value / 60) + ':00') : ''",
        "labelFontSize": 16.5, "labelPadding": 6, "labelFlush": false, "labelOverlap": false,
        "tickSize": {"condition": {"test": "datum.value % 180 === 0", "value": 5}, "value": 2.8},
        "tickWidth": {"condition": {"test": "datum.value % 180 === 0", "value": 1.1}, "value": 0.8},
        "grid": true, "gridColor": "#d3d3d3", "gridDash": [3.5, 2], "gridWidth": 0.8,
        "gridOpacity": {"condition": {"test": "datum.value % 180 === 0 && datum.value > 0", "value": 1}, "value": 0}}},
    "y": {"field": "z", "type": "quantitative", "scale": {"domain": [-60, 30], "nice": false, "zero": false},
      "axis": {"title": "Zₕ [dBZ]", "titleFontSize": 18.5, "titleFontStyle": "italic", "titleFontWeight": "normal", "titlePadding": 11, "domain": false,
        "values": [-60,-58,-56,-54,-52,-50,-48,-46,-44,-42,-40,-38,-36,-34,-32,-30,-28,-26,-24,-22,-20,-18,-16,-14,-12,-10,-8,-6,-4,-2,0,2,4,6,8,10,12,14,16,18,20,22,24,26,28,30],
        "labelExpr": "datum.value % 10 === 0 ? replace(toString(datum.value), '-', '\u2212') : ''",
        "labelFontSize": 16.5, "labelPadding": 4, "labelFlush": false, "labelOverlap": false,
        "tickSize": {"condition": {"test": "datum.value % 10 === 0", "value": 5}, "value": 2.8},
        "tickWidth": {"condition": {"test": "datum.value % 10 === 0", "value": 1.1}, "value": 0.8},
        "grid": true, "gridColor": "#d3d3d3", "gridDash": [3.5, 2], "gridWidth": 0.8,
        "gridOpacity": {"condition": {"test": "datum.value % 10 === 0 && datum.value > -60 && datum.value < 30", "value": 1}, "value": 0}}},
    "color": {"datum": "Zₕ from DCR @ 163m", "type": "nominal",
      "scale": {"domain": ["Zₕ from DCR @ 163m", "Zₕ modeled from DD"], "range": ["#1f77b4", "#000000"]},
      "legend": {"title": null, "orient": "top-right", "offset": 8, "symbolType": "M-1,0H2.364", "symbolSize": 484, "symbolStrokeWidth": 2.2,
        "labelFontSize": 16.7, "labelOffset": 25, "labelLimit": 400, "rowPadding": 5, "padding": 6,
        "strokeColor": "#cccccc", "fillColor": "white", "cornerRadius": 3, "labelColor": "black"}}
  }
},
{
  "data": {"name": "logo"},
  "mark": {"type": "text", "fontSize": 29.5, "color": "#121638", "align": "center", "baseline": "middle", "clip": false},
  "encoding": {
    "x": {"field": "t", "type": "quantitative", "scale": {"domain": [0, 1440], "nice": false, "zero": false},
      "axis": {"orient": "top", "title": "Reflectivity from RPG-Radiometer Physics RPG-FMCW-94 DCR and OTT HydroMet Parsivel2 disdrometer",
        "labels": false, "ticks": false, "domain": false, "grid": false,
        "titleFontSize": 16.6, "titleFontStyle": "italic", "titleFontWeight": "normal", "titlePadding": 6}},
    "y": {"field": "z", "type": "quantitative", "scale": {"domain": [-60, 30], "nice": false, "zero": false}, "axis": null},
    "text": {"field": "label"}
  }
},
{
  "data": {"name": "logo2"},
  "mark": {"type": "text", "fontSize": 16.5, "color": "#121638", "align": "center", "baseline": "middle", "clip": false},
  "encoding": {
    "x": {"field": "t", "type": "quantitative", "axis": null},
    "y": {"field": "z", "type": "quantitative", "axis": null},
    "text": {"field": "label"}
  }
},
{
  "data": {"name": "arc"},
  "mark": {"type": "line", "interpolate": "monotone", "strokeWidth": 3, "clip": false,
    "color": {"gradient": "linear", "x1": 0, "y1": 0, "x2": 1, "y2": 0, "stops": [{"offset": 0, "color": "#7cc8c4"}, {"offset": 0.45, "color": "#2a7f8f"}, {"offset": 1, "color": "#121638"}]}},
  "encoding": {
    "x": {"field": "t", "type": "quantitative", "axis": null},
    "y": {"field": "z", "type": "quantitative", "axis": null}
  }
},
{
  "data": {"name": "mast"},
  "mark": {"type": "line", "strokeWidth": 2, "clip": false, "color": "#121638"},
  "encoding": {
    "x": {"field": "t", "type": "quantitative", "axis": null},
    "y": {"field": "z", "type": "quantitative", "axis": null}
  }
}
],
"resolve": {"axis": {"x": "independent", "y": "independent"}}
}
